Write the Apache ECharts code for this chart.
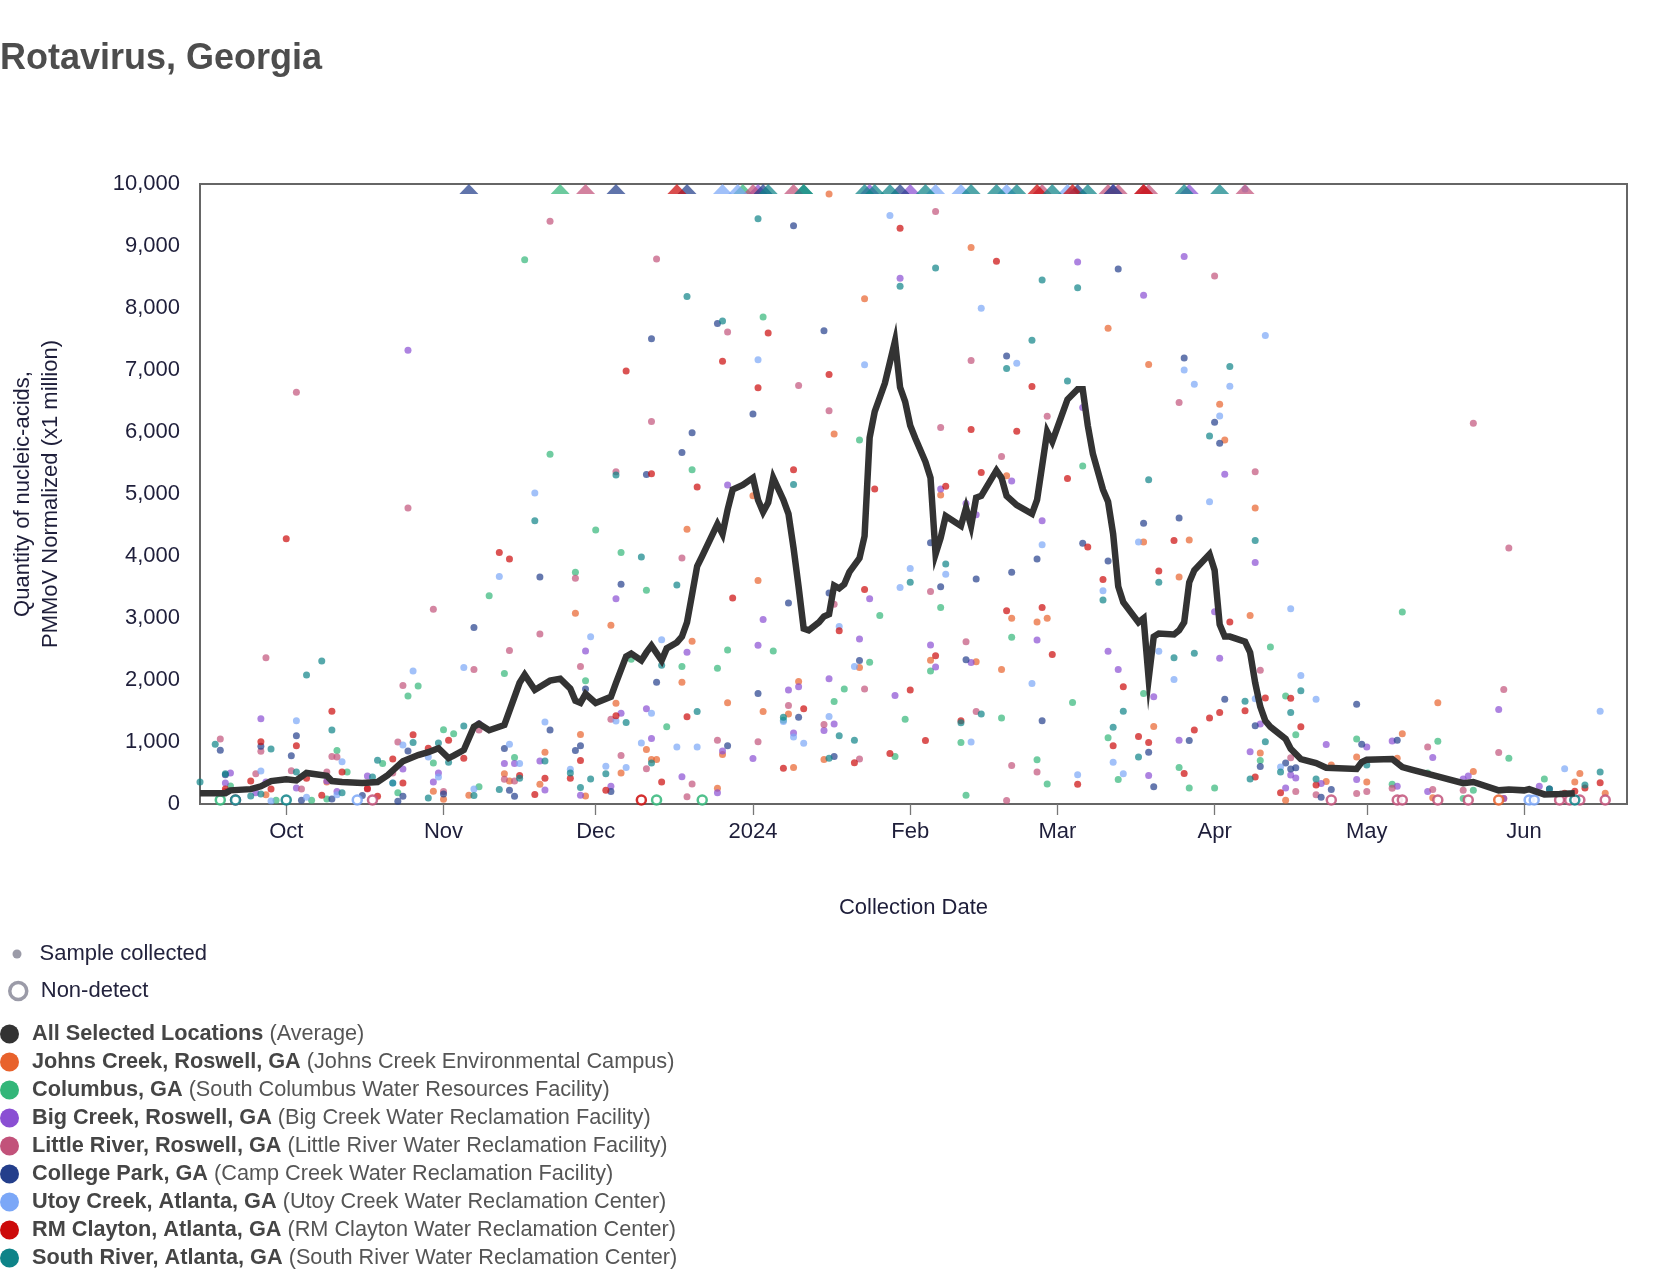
<!DOCTYPE html>
<html><head><meta charset="utf-8">
<script src="https://cdn.jsdelivr.net/npm/echarts@6/dist/echarts.min.js"></script>
<style>html,body{margin:0;padding:0;background:#fff}#c{width:1668px;height:1288px}</style>
</head><body><div id="c"></div>
<script>
// ---------------- DATA ----------------
const xStart = '2023-09-14T00:00:00';
const xEnd = '2024-06-21T07:00:00';
const yMax = 10000;
const yStep = 1000;
const tickDates = ['2023-10-01','2023-11-01','2023-12-01','2024-01-01','2024-02-01','2024-03-01','2024-04-01','2024-05-01','2024-06-01'];
const tickLabels = ['Oct','Nov','Dec','2024','Feb','Mar','Apr','May','Jun'];

const averageValues = [['2023-09-14',175],['2023-09-19',175],['2023-09-20',220],['2023-09-24',240],['2023-09-26',285],['2023-09-28',370],['2023-10-01',400],['2023-10-03',380],['2023-10-05',500],['2023-10-09',455],['2023-10-10',370],['2023-10-12',355],['2023-10-16',340],['2023-10-19',355],['2023-10-21',465],['2023-10-24',690],['2023-10-27',790],['2023-10-29',835],['2023-10-31',900],['2023-11-02',740],['2023-11-03',780],['2023-11-05',870],['2023-11-07',1245],['2023-11-08',1295],['2023-11-10',1190],['2023-11-13',1275],['2023-11-16',1955],['2023-11-17',2085],['2023-11-19',1840],['2023-11-22',1990],['2023-11-24',2020],['2023-11-26',1860],['2023-11-27',1665],['2023-11-28',1630],['2023-11-29',1775],['2023-12-01',1630],['2023-12-04',1730],['2023-12-05',1955],['2023-12-07',2380],['2023-12-08',2425],['2023-12-10',2315],['2023-12-11',2445],['2023-12-12',2555],['2023-12-14',2315],['2023-12-15',2510],['2023-12-17',2605],['2023-12-18',2700],['2023-12-19',2930],['2023-12-20',3380],['2023-12-21',3835],['2023-12-22',4000],['2023-12-25',4515],['2023-12-26',4355],['2023-12-27',4745],['2023-12-28',5070],['2023-12-30',5145],['2024-01-01',5260],['2024-01-02',4905],['2024-01-03',4710],['2024-01-04',4860],['2024-01-05',5260],['2024-01-07',4905],['2024-01-08',4680],['2024-01-09',4130],['2024-01-10',3500],['2024-01-11',2830],['2024-01-12',2800],['2024-01-14',2930],['2024-01-15',3025],['2024-01-16',3060],['2024-01-17',3525],['2024-01-18',3480],['2024-01-19',3545],['2024-01-20',3740],['2024-01-22',3965],['2024-01-23',4320],['2024-01-24',5910],['2024-01-25',6330],['2024-01-27',6785],['2024-01-29',7465],['2024-01-30',6720],['2024-01-31',6490],['2024-02-01',6105],['2024-02-02',5900],['2024-02-04',5520],['2024-02-05',5260],['2024-02-06',4030],['2024-02-07',4290],['2024-02-08',4645],['2024-02-11',4485],['2024-02-12',4775],['2024-02-13',4485],['2024-02-14',4940],['2024-02-15',4970],['2024-02-18',5380],['2024-02-19',5260],['2024-02-20',4970],['2024-02-22',4820],['2024-02-25',4680],['2024-02-26',4905],['2024-02-28',6005],['2024-02-29',5845],['2024-03-03',6525],['2024-03-05',6690],['2024-03-06',6690],['2024-03-07',6105],['2024-03-08',5650],['2024-03-10',5070],['2024-03-11',4875],['2024-03-12',4355],['2024-03-13',3510],['2024-03-14',3255],['2024-03-17',2930],['2024-03-18',2995],['2024-03-19',2020],['2024-03-20',2700],['2024-03-21',2750],['2024-03-24',2735],['2024-03-25',2800],['2024-03-26',2930],['2024-03-27',3575],['2024-03-28',3770],['2024-03-31',4030],['2024-04-01',3770],['2024-04-02',2895],['2024-04-03',2700],['2024-04-04',2700],['2024-04-07',2620],['2024-04-08',2445],['2024-04-09',1955],['2024-04-10',1570],['2024-04-11',1340],['2024-04-12',1245],['2024-04-15',1050],['2024-04-16',890],['2024-04-18',725],['2024-04-21',660],['2024-04-23',585],['2024-04-29',565],['2024-04-30',675],['2024-05-01',715],['2024-05-06',725],['2024-05-08',595],['2024-05-10',550],['2024-05-14',465],['2024-05-20',335],['2024-05-22',355],['2024-05-27',220],['2024-05-29',235],['2024-06-01',220],['2024-06-02',240],['2024-06-05',155],['2024-06-08',160],['2024-06-11',175]];

const johnsCreekValues = [['2023-09-27',150],['2023-10-09',356],['2023-10-30',207],['2023-11-01',78],['2023-11-06',143],['2023-11-13',486],['2023-11-14',370],['2023-11-20',318],['2023-11-21',836],['2023-11-27',3078],['2023-11-28',1121],['2023-11-29',130],['2023-12-04',2884],['2023-12-05',1626],['2023-12-06',499],['2023-12-11',881],['2023-12-12',719],['2023-12-13',719],['2023-12-18',1963],['2023-12-19',4432],['2023-12-20',2624],['2023-12-25',253],['2023-12-26',800],['2023-12-27',1633],['2024-01-01',4970],['2024-01-02',3603],['2024-01-03',1490],['2024-01-08',1450],['2024-01-09',590],['2024-01-10',1976],['2024-01-15',719],['2024-01-16',9840],['2024-01-17',5968],['2024-01-22',2203],['2024-01-23',8150],['2024-02-05',2320],['2024-02-07',4983],['2024-02-13',8975],['2024-02-14',2294],['2024-02-19',2171],['2024-02-20',5294],['2024-02-21',2994],['2024-02-26',2935],['2024-02-28',2994],['2024-03-11',7672],['2024-03-18',4225],['2024-03-19',7089],['2024-03-20',1251],['2024-03-25',3661],['2024-03-27',4257],['2024-04-02',6448],['2024-04-03',5871],['2024-04-08',3039],['2024-04-09',4776],['2024-04-10',823],['2024-04-15',60],['2024-04-23',363],['2024-04-24',628],['2024-04-29',758],['2024-05-01',356],['2024-05-07',739],['2024-05-08',1134],['2024-05-14',100],['2024-05-15',1633],['2024-05-22',525],['2024-05-28',90],['2024-06-11',356],['2024-06-12',492],['2024-06-17',175]];
const johnsCreekNonDetect = ['2024-05-27'];
const johnsCreekOverRange = [];

const columbusValues = [['2023-09-20',292],['2023-09-29',60],['2023-10-06',60],['2023-10-09',80],['2023-10-11',862],['2023-10-13',518],['2023-10-20',654],['2023-10-23',181],['2023-10-25',1743],['2023-10-27',1905],['2023-10-30',661],['2023-11-01',1199],['2023-11-03',1134],['2023-11-08',279],['2023-11-10',3360],['2023-11-13',2106],['2023-11-15',752],['2023-11-17',8780],['2023-11-22',5640],['2023-11-27',3739],['2023-11-29',1989],['2023-12-01',4419],['2023-12-06',4056],['2023-12-08',2333],['2023-12-11',3447],['2023-12-15',1244],['2023-12-18',2216],['2023-12-20',5391],['2023-12-25',2190],['2023-12-27',2482],['2024-01-03',7854],['2024-01-05',2469],['2024-01-07',1350],['2024-01-17',1652],['2024-01-19',1853],['2024-01-22',5870],['2024-01-24',2287],['2024-01-26',3039],['2024-01-29',765],['2024-01-31',1367],['2024-02-05',2145],['2024-02-07',3169],['2024-02-11',991],['2024-02-12',143],['2024-02-19',1387],['2024-02-21',2689],['2024-02-26',713],['2024-02-28',324],['2024-03-04',1639],['2024-03-06',5450],['2024-03-11',1069],['2024-03-13',395],['2024-03-18',1782],['2024-03-25',590],['2024-03-27',259],['2024-04-01',259],['2024-04-10',700],['2024-04-12',2534],['2024-04-15',1743],['2024-04-17',1115],['2024-04-29',1050],['2024-05-06',318],['2024-05-08',3097],['2024-05-13',499],['2024-05-15',1011],['2024-05-20',90],['2024-05-22',220],['2024-05-29',739],['2024-06-05',402]];
const columbusNonDetect = ['2023-09-18','2023-12-13','2023-12-22'];
const columbusOverRange = ['2023-11-24','2023-12-30','2024-01-11'];

const bigCreekValues = [['2023-09-19',337],['2023-09-20',499],['2023-09-25',180],['2023-09-26',1374],['2023-09-27',356],['2023-10-03',259],['2023-10-09',370],['2023-10-11',200],['2023-10-17',453],['2023-10-24',564],['2023-10-25',7320],['2023-10-30',356],['2023-10-31',499],['2023-11-08',1296],['2023-11-13',654],['2023-11-15',654],['2023-11-20',693],['2023-11-21',227],['2023-11-28',143],['2023-11-29',2469],['2023-12-04',285],['2023-12-05',3311],['2023-12-06',1464],['2023-12-11',1536],['2023-12-12',1056],['2023-12-18',440],['2023-12-19',2449],['2023-12-25',181],['2023-12-26',855],['2023-12-27',5145],['2024-01-01',732],['2024-01-02',2560],['2024-01-03',2974],['2024-01-08',1840],['2024-01-09',1147],['2024-01-10',1892],['2024-01-15',1186],['2024-01-16',2022],['2024-01-17',1290],['2024-01-22',2663],['2024-01-24',3311],['2024-01-29',1750],['2024-01-30',8480],['2024-02-05',2566],['2024-02-06',2210],['2024-02-07',5080],['2024-02-12',4847],['2024-02-13',2281],['2024-02-14',4666],['2024-02-21',5210],['2024-02-26',2644],['2024-02-27',4568],['2024-03-05',8741],['2024-03-06',6396],['2024-03-11',2462],['2024-03-13',2171],['2024-03-18',8204],['2024-03-19',460],['2024-03-20',1730],['2024-03-25',1030],['2024-03-26',8832],['2024-04-01',3100],['2024-04-02',2352],['2024-04-03',5320],['2024-04-08',842],['2024-04-09',3894],['2024-04-10',1290],['2024-04-15',260],['2024-04-16',466],['2024-04-17',421],['2024-04-22',330],['2024-04-23',959],['2024-04-29',395],['2024-05-01',920],['2024-05-06',1017],['2024-05-07',285],['2024-05-13',200],['2024-05-14',752],['2024-05-20',402],['2024-05-21',453],['2024-05-27',1523],['2024-05-28',90],['2024-06-04',285]];
const bigCreekNonDetect = [];
const bigCreekOverRange = ['2024-01-02','2024-01-24','2024-02-01','2024-03-12','2024-03-27'];

const littleRiverValues = [['2023-09-18',1050],['2023-09-19',200],['2023-09-25',486],['2023-09-26',849],['2023-09-27',2360],['2023-10-02',538],['2023-10-03',6640],['2023-10-04',240],['2023-10-09',518],['2023-10-10',765],['2023-10-11',758],['2023-10-17',240],['2023-10-22',499],['2023-10-23',998],['2023-10-24',1912],['2023-10-25',4776],['2023-10-30',3140],['2023-11-01',200],['2023-11-07',2170],['2023-11-08',1192],['2023-11-13',400],['2023-11-14',2475],['2023-11-15',370],['2023-11-20',2740],['2023-11-22',9400],['2023-11-27',3642],['2023-11-28',2216],['2023-12-04',1367],['2023-12-05',5359],['2023-12-06',784],['2023-12-11',570],['2023-12-12',6170],['2023-12-13',8790],['2023-12-18',3966],['2023-12-19',117],['2023-12-20',324],['2023-12-25',1030],['2023-12-27',7614],['2024-01-02',1004],['2024-01-08',1588],['2024-01-10',6752],['2024-01-15',1283],['2024-01-16',6344],['2024-01-17',3220],['2024-01-22',726],['2024-01-23',1853],['2024-02-05',3428],['2024-02-06',9558],['2024-02-07',6072],['2024-02-12',2618],['2024-02-13',7154],['2024-02-14',1490],['2024-02-19',5605],['2024-02-20',58],['2024-02-21',622],['2024-02-26',518],['2024-02-28',6253],['2024-03-25',6474],['2024-04-01',8515],['2024-04-09',5359],['2024-04-10',2158],['2024-04-16',745],['2024-04-17',200],['2024-04-21',150],['2024-04-29',168],['2024-05-01',200],['2024-05-06',253],['2024-05-13',920],['2024-05-14',233],['2024-05-20',220],['2024-05-22',6143],['2024-05-27',829],['2024-05-28',1847],['2024-05-29',4128]];
const littleRiverNonDetect = ['2023-09-21','2023-10-18','2024-04-24','2024-05-07','2024-05-08','2024-05-15','2024-05-21','2024-06-08','2024-06-10','2024-06-12','2024-06-17'];
const littleRiverOverRange = ['2023-11-29','2024-01-01','2024-01-09','2024-02-27','2024-03-11','2024-03-13','2024-03-18','2024-03-19','2024-04-07'];

const collegeParkValues = [['2023-09-18',868],['2023-09-19',470],['2023-09-26',933],['2023-10-02',777],['2023-10-03',1100],['2023-10-04',60],['2023-10-10',80],['2023-10-16',136],['2023-10-23',45],['2023-10-24',123],['2023-10-25',855],['2023-11-01',162],['2023-11-07',2845],['2023-11-13',894],['2023-11-14',220],['2023-11-15',123],['2023-11-20',3660],['2023-11-22',1192],['2023-11-27',862],['2023-11-28',940],['2023-11-29',1853],['2023-12-04',200],['2023-12-06',3545],['2023-12-11',5314],['2023-12-12',7504],['2023-12-13',1963],['2023-12-18',5670],['2023-12-20',5987],['2023-12-25',7750],['2023-12-27',940],['2024-01-01',6292],['2024-01-02',1782],['2024-01-08',3240],['2024-01-09',9325],['2024-01-10',1400],['2024-01-15',7633],['2024-01-16',3402],['2024-01-17',765],['2024-01-22',2313],['2024-02-05',4212],['2024-02-07',3506],['2024-02-12',2326],['2024-02-14',3629],['2024-02-20',7225],['2024-02-21',3739],['2024-02-26',3953],['2024-02-27',1341],['2024-03-06',4206],['2024-03-11',3920],['2024-03-13',8631],['2024-03-18',4530],['2024-03-19',836],['2024-03-20',279],['2024-03-25',4614],['2024-03-26',7193],['2024-03-27',1024],['2024-04-01',6156],['2024-04-02',5819],['2024-04-03',1691],['2024-04-09',1264],['2024-04-10',603],['2024-04-15',661],['2024-04-16',564],['2024-04-17',583],['2024-04-22',110],['2024-04-24',233],['2024-04-29',1607],['2024-04-30',965],['2024-05-07',1030],['2024-06-06',240]];
const collegeParkNonDetect = [];
const collegeParkOverRange = ['2023-11-06','2023-12-05','2023-12-19','2024-01-03','2024-01-30','2024-03-05','2024-03-12'];

const utoyCreekValues = [['2023-09-26',531],['2023-09-28',50],['2023-10-03',1341],['2023-10-05',110],['2023-10-11',150],['2023-10-12',680],['2023-10-22',337],['2023-10-24',952],['2023-10-26',2145],['2023-10-29',758],['2023-10-31',434],['2023-11-05',2200],['2023-11-07',240],['2023-11-12',3670],['2023-11-14',965],['2023-11-16',654],['2023-11-19',5015],['2023-11-21',1322],['2023-11-26',560],['2023-11-30',2696],['2023-12-03',609],['2023-12-05',1340],['2023-12-07',590],['2023-12-10',985],['2023-12-12',1464],['2023-12-14',2650],['2023-12-17',920],['2023-12-21',920],['2024-01-02',7167],['2024-01-07',1330],['2024-01-09',1082],['2024-01-11',978],['2024-01-16',1412],['2024-01-18',2864],['2024-01-21',2216],['2024-01-23',7083],['2024-01-28',9490],['2024-01-30',3493],['2024-02-01',3797],['2024-02-08',3707],['2024-02-13',998],['2024-02-15',7996],['2024-02-22',7109],['2024-02-25',1944],['2024-02-27',4180],['2024-03-05',473],['2024-03-10',3441],['2024-03-12',674],['2024-03-14',486],['2024-03-17',4225],['2024-03-21',2462],['2024-03-24',2009],['2024-03-26',6998],['2024-03-28',6772],['2024-03-31',4873],['2024-04-02',6260],['2024-04-04',6739],['2024-04-07',9920],['2024-04-09',1698],['2024-04-11',7556],['2024-04-14',596],['2024-04-16',3149],['2024-04-18',2074],['2024-04-21',1691],['2024-06-09',570],['2024-06-16',1497]];
const utoyCreekNonDetect = ['2023-10-15','2024-06-02','2024-06-03'];
const utoyCreekOverRange = ['2023-12-26','2023-12-29','2024-02-06','2024-02-11','2024-02-20','2024-03-03'];

const rmClaytonValues = [['2023-09-19',240],['2023-09-24',370],['2023-09-26',1004],['2023-09-28',240],['2023-10-01',4277],['2023-10-03',940],['2023-10-05',415],['2023-10-08',143],['2023-10-10',1497],['2023-10-12',518],['2023-10-17',250],['2023-10-19',123],['2023-10-22',726],['2023-10-24',337],['2023-10-26',1115],['2023-10-29',900],['2023-11-02',1030],['2023-11-05',739],['2023-11-12',4056],['2023-11-14',3950],['2023-11-16',460],['2023-11-19',155],['2023-11-21',415],['2023-11-26',415],['2023-11-28',700],['2023-12-03',220],['2023-12-05',1425],['2023-12-07',6985],['2023-12-12',5327],['2023-12-14',356],['2023-12-19',1406],['2023-12-21',5113],['2023-12-26',7141],['2023-12-28',3324],['2024-01-02',6713],['2024-01-04',7595],['2024-01-07',577],['2024-01-09',5391],['2024-01-11',1536],['2024-01-16',6927],['2024-01-18',2793],['2024-01-21',667],['2024-01-23',3460],['2024-01-25',5080],['2024-01-28',816],['2024-01-30',9285],['2024-02-01',1840],['2024-02-04',1024],['2024-02-06',2391],['2024-02-08',5126],['2024-02-11',1341],['2024-02-13',6039],['2024-02-15',5346],['2024-02-18',8754],['2024-02-20',3117],['2024-02-22',6013],['2024-02-25',6732],['2024-02-27',3169],['2024-02-29',2411],['2024-03-03',5249],['2024-03-05',318],['2024-03-07',4147],['2024-03-10',3622],['2024-03-12',940],['2024-03-14',1892],['2024-03-17',1089],['2024-03-19',991],['2024-03-21',3758],['2024-03-24',4251],['2024-03-26',492],['2024-03-28',1192],['2024-03-31',1387],['2024-04-02',1477],['2024-04-04',2935],['2024-04-07',1503],['2024-04-09',434],['2024-04-11',1711],['2024-04-14',181],['2024-04-16',1704],['2024-04-18',1244],['2024-04-21',305],['2024-06-09',175],['2024-06-11',207],['2024-06-13',259],['2024-06-16',343]];
const rmClaytonNonDetect = ['2023-12-10'];
const rmClaytonOverRange = ['2023-12-17','2024-02-26','2024-03-04','2024-03-18'];

const southRiverValues = [['2023-09-14',356],['2023-09-17',965],['2023-09-19',486],['2023-09-24',130],['2023-09-26',160],['2023-09-28',888],['2023-10-03',518],['2023-10-05',2080],['2023-10-08',2307],['2023-10-10',1192],['2023-10-12',180],['2023-10-18',434],['2023-10-19',706],['2023-10-22',337],['2023-10-26',991],['2023-10-29',97],['2023-10-31',985],['2023-11-02',674],['2023-11-05',1257],['2023-11-07',136],['2023-11-12',233],['2023-11-16',415],['2023-11-19',4570],['2023-11-21',693],['2023-11-26',499],['2023-11-28',266],['2023-11-30',402],['2023-12-03',486],['2023-12-05',5307],['2023-12-07',1315],['2023-12-10',3985],['2023-12-12',661],['2023-12-14',2236],['2023-12-17',3532],['2023-12-19',8185],['2023-12-21',1490],['2023-12-26',7790],['2024-01-02',9440],['2024-01-07',1400],['2024-01-09',5152],['2024-01-16',739],['2024-01-18',1102],['2024-01-21',1030],['2024-01-30',8350],['2024-02-01',3577],['2024-02-06',8644],['2024-02-08',3869],['2024-02-11',1310],['2024-02-15',1452],['2024-02-20',7024],['2024-02-25',7478],['2024-02-27',8450],['2024-03-03',6823],['2024-03-05',8327],['2024-03-10',3292],['2024-03-12',1238],['2024-03-14',1497],['2024-03-17',758],['2024-03-19',5229],['2024-03-21',3577],['2024-03-24',2359],['2024-03-28',2430],['2024-03-31',5936],['2024-04-04',7056],['2024-04-07',1659],['2024-04-08',402],['2024-04-09',4251],['2024-04-11',1004],['2024-04-14',518],['2024-04-16',1477],['2024-04-18',1827],['2024-04-21',402],['2024-05-01',628],['2024-06-06',240],['2024-06-13',305],['2024-06-16',518]];
const southRiverNonDetect = ['2023-09-21','2023-10-01','2024-06-11'];
const southRiverOverRange = ['2024-01-04','2024-01-11','2024-01-23','2024-01-25','2024-01-28','2024-02-04','2024-02-13','2024-02-18','2024-02-22','2024-02-29','2024-03-07','2024-03-26','2024-04-02'];

const siteNames = ['Johns Creek, Roswell, GA','Columbus, GA','Big Creek, Roswell, GA','Little River, Roswell, GA','College Park, GA','Utoy Creek, Atlanta, GA','RM Clayton, Atlanta, GA','South River, Atlanta, GA'];
const siteFacilities = ['Johns Creek Environmental Campus','South Columbus Water Resources Facility','Big Creek Water Reclamation Facility','Little River Water Reclamation Facility','Camp Creek Water Reclamation Facility','Utoy Creek Water Reclamation Center','RM Clayton Water Reclamation Center','South River Water Reclamation Center'];
const siteColors = ['#e8622c','#33b679','#8a4fd3','#c2527a','#233e8b','#7ba7f7','#cc0a0a','#0e8388'];
const siteValues = [johnsCreekValues, columbusValues, bigCreekValues, littleRiverValues, collegeParkValues, utoyCreekValues, rmClaytonValues, southRiverValues];
const siteNonDetect = [johnsCreekNonDetect, columbusNonDetect, bigCreekNonDetect, littleRiverNonDetect, collegeParkNonDetect, utoyCreekNonDetect, rmClaytonNonDetect, southRiverNonDetect];
const siteOverRange = [johnsCreekOverRange, columbusOverRange, bigCreekOverRange, littleRiverOverRange, collegeParkOverRange, utoyCreekOverRange, rmClaytonOverRange, southRiverOverRange];
const averageName = 'All Selected Locations';
const averageNote = 'Average';

// ---------------- CHART ----------------
const FONT = '"Liberation Sans", Arial, sans-serif';
const toTs = s => new Date(s.length === 10 ? s + 'T00:00:00' : s).getTime();
const pts = arr => arr.map(p => [toTs(p[0]), p[1]]);
const tickTimes = tickDates.map(toTs);
const noteByName = {};
noteByName[averageName] = averageNote;
siteNames.forEach((n, i) => noteByName[n] = siteFacilities[i]);

const series = [];
series.push({ name: 'Sample collected', type: 'scatter', data: [], itemStyle: { color: '#9b9ba8' } });
series.push({ name: 'Non-detect', type: 'scatter', data: [], itemStyle: { color: '#fff', borderColor: '#9b9ba8', borderWidth: 3.5 } });
siteNames.forEach((name, i) => {
  series.push({
    name, type: 'scatter', data: pts(siteValues[i]), symbol: 'circle', symbolSize: 7,
    itemStyle: { color: siteColors[i], opacity: 0.7 }, z: 2, silent: true
  });
  series.push({
    name, type: 'scatter', data: siteNonDetect[i].map(d => [toTs(d), 0]), symbol: 'circle', symbolSize: 9,
    symbolOffset: [0, -4], clip: false,
    itemStyle: { color: '#fff', borderColor: siteColors[i], borderWidth: 2.5, opacity: 0.85 }, z: 3, silent: true
  });
  series.push({
    name, type: 'scatter', data: siteOverRange[i].map(d => [toTs(d), yMax]), symbol: 'triangle', symbolSize: [19, 10],
    symbolOffset: [0, 5], clip: false,
    itemStyle: { color: siteColors[i], opacity: 0.72 }, z: 3, silent: true
  });
});
series.push({
  name: averageName, type: 'line', data: pts(averageValues), showSymbol: false, symbol: 'none',
  lineStyle: { color: '#333333', width: 6.5, join: 'miter' }, itemStyle: { color: '#333333' }, z: 10, silent: true
});

const chart = echarts.init(document.getElementById('c'), null, { renderer: 'canvas' });
chart.setOption({
  animation: false,
  backgroundColor: '#ffffff',
  textStyle: { fontFamily: FONT },
  title: {
    text: 'Rotavirus, Georgia', left: 0, top: 41, padding: 0,
    textStyle: { fontSize: 36, fontWeight: 'bold', color: '#4d4d4d', fontFamily: FONT }
  },
  grid: {
    left: 200, right: 41, top: 184, bottom: 484, show: true,
    borderColor: '#666666', borderWidth: 2, backgroundColor: 'transparent',
    containLabel: false, outerBoundsMode: 'none'
  },
  xAxis: {
    type: 'value', min: toTs(xStart), max: toTs(xEnd),
    name: 'Collection Date', nameLocation: 'middle', nameGap: 93,
    nameTextStyle: { fontSize: 22, color: '#1e1e3a', fontFamily: FONT },
    axisLine: { show: false },
    axisTick: { show: true, length: 11, customValues: tickTimes, lineStyle: { color: '#777', width: 1.3 } },
    axisLabel: {
      customValues: tickTimes, margin: 17, fontSize: 22, color: '#1e1e3a', fontFamily: FONT,
      formatter: v => { const i = tickTimes.indexOf(v); return i >= 0 ? tickLabels[i] : ''; }
    },
    splitLine: { show: false }
  },
  yAxis: {
    type: 'value', min: 0, max: yMax, interval: yStep,
    name: 'Quantity of nucleic-acids,\nPMMoV Normalized (x1 million)', nameLocation: 'middle', nameGap: 135, nameRotate: 90,
    nameTextStyle: { fontSize: 22, color: '#1e1e3a', lineHeight: 28, fontFamily: FONT },
    axisLine: { show: false }, axisTick: { show: false }, splitLine: { show: false },
    axisLabel: { margin: 20, fontSize: 22, color: '#1e1e3a', fontFamily: FONT, formatter: v => echarts.format.addCommas(v) }
  },
  legend: [
    {
      data: [{ name: 'Sample collected', itemStyle: { color: '#9b9ba8', opacity: 1 } }],
      left: 12.5, top: 942.5, padding: 0, orient: 'vertical', itemWidth: 9, itemHeight: 9, icon: 'circle', selectedMode: false,
      textStyle: { fontSize: 22, color: '#23233d', lineHeight: 23, padding: [0, 0, 0, 13], fontFamily: FONT }
    },
    {
      data: [{ name: 'Non-detect', itemStyle: { color: '#fff', borderColor: '#9b9ba8', borderWidth: 3.5, opacity: 1 } }],
      left: 8, top: 979.5, padding: 0, orient: 'vertical', itemWidth: 17, itemHeight: 17, icon: 'circle', selectedMode: false,
      textStyle: { fontSize: 22, color: '#23233d', lineHeight: 23, padding: [0, 0, 0, 9], fontFamily: FONT }
    },
    {
      data: [{ name: averageName, itemStyle: { color: '#333333', opacity: 1 } }]
        .concat(siteNames.map((n, i) => ({ name: n, itemStyle: { color: siteColors[i], opacity: 1, borderWidth: 0 } }))),
      left: 0, top: 1022.5, padding: 0, orient: 'vertical', itemWidth: 19, itemHeight: 19, itemGap: 5, icon: 'circle', selectedMode: false,
      formatter: n => '{b|' + n + '} {n|(' + noteByName[n] + ')}',
      textStyle: {
        fontSize: 21.7, color: '#555', lineHeight: 23, padding: [0, 0, 0, 8], fontFamily: FONT,
        rich: {
          b: { fontSize: 21.7, fontWeight: 'bold', color: '#454545', lineHeight: 23, fontFamily: FONT },
          n: { fontSize: 21.7, color: '#555555', lineHeight: 23, fontFamily: FONT }
        }
      }
    }
  ],
  series
});
</script>
</body></html>
